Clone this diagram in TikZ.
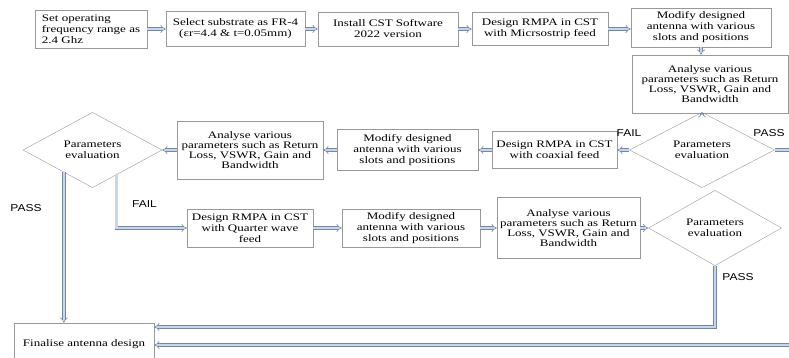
\documentclass[tikz,border=0pt]{standalone}
\usepackage{fontspec}
\setmainfont[FakeStretch=1.3]{Liberation Serif}
\newfontfamily\labelfont[FakeStretch=1.2]{Liberation Sans}
\usetikzlibrary{shapes.geometric,arrows.meta}

\definecolor{flowedge}{RGB}{120,135,160}
\definecolor{flowfill}{RGB}{198,214,236}

\tikzset{
	stepbox/.style={draw=gray!80, rectangle, align=center, inner sep=3pt, font=\fontsize{10}{11}\selectfont},
	anabox/.style={stepbox, font=\fontsize{10}{9.8}\selectfont},
	decision/.style={draw=gray!80, diamond, align=center, inner sep=0pt, font=\fontsize{10}{11}\selectfont},
	flow/.style={draw=flowedge, double=flowfill, double distance=2.2pt, line width=0.6pt, -{Implies}},
	tag/.style={font=\labelfont\fontsize{10}{11}\selectfont}
}

\begin{document}
\begin{tikzpicture}[x=1pt,y=-1pt]
	\useasboundingbox (0,0) rectangle (789,358);

	% Top row
	\node (freq) at (91,29) [stepbox, align=left, minimum width=112pt, minimum height=38pt] {Set operating\\frequency range as\\2.4 Ghz};
	\node (sub) at (235.5,29) [stepbox, minimum width=139pt, minimum height=35pt] {Select substrate as FR-4\\(εr=4.4 \& t=0.05mm)};
	\node (cst) at (388,29) [stepbox, minimum width=140pt, minimum height=34pt] {Install CST Software\\2022 version};
	\node (micro) at (540,29) [stepbox, minimum width=136pt, minimum height=33pt] {Design RMPA in CST\\with Micrsostrip feed};
	\node (modA) at (701,27.5) [stepbox, minimum width=140pt, minimum height=39pt] {Modify designed\\antenna with various\\slots and positions};
	\node (anaA) at (710,84) [anabox, minimum width=156pt, minimum height=58pt] {Analyse various\\parameters such as Return\\Loss, VSWR, Gain and\\Bandwidth};

	% Second row (right to left)
	\node (evalA) at (702,150) [decision, minimum width=145pt, minimum height=58pt] {Parameters\\evaluation};
	\node (coax) at (554.5,150) [stepbox, minimum width=125pt, minimum height=37pt] {Design RMPA in CST\\with coaxial feed};
	\node (modB) at (407.5,150) [stepbox, minimum width=141pt, minimum height=41pt] {Modify designed\\antenna with various\\slots and positions};
	\node (anaB) at (250,150) [anabox, minimum width=146pt, minimum height=58pt] {Analyse various\\parameters such as Return\\Loss, VSWR, Gain and\\Bandwidth};
	\node (evalB) at (92.5,150) [decision, minimum width=139pt, minimum height=70pt] {Parameters\\evaluation};

	% Third row
	\node (qwave) at (250,228) [stepbox, minimum width=126pt, minimum height=38pt] {Design RMPA in CST\\with Quarter wave\\feed};
	\node (modC) at (411,228) [stepbox, minimum width=138pt, minimum height=38pt] {Modify designed\\antenna with various\\slots and positions};
	\node (anaC) at (568.5,228) [anabox, minimum width=143pt, minimum height=61pt] {Analyse various\\parameters such as Return\\Loss, VSWR, Gain and\\Bandwidth};
	\node (evalC) at (715,228) [decision, minimum width=133pt, minimum height=69pt] {Parameters\\evaluation};

	% Final box
	\node (fin) at (84,344) [stepbox, minimum width=140pt, minimum height=42pt] {Finalise antenna design};

	% Helper points
	\coordinate (offR) at (800,150);
	\coordinate (offB) at (800,345);
	\coordinate (passR) at (715,327);

	% Connectors, top row
	\draw[flow] (freq) -- (sub);
	\draw[flow] (sub) -- (cst);
	\draw[flow] (cst) -- (micro);
	\draw[flow] (micro) -- (modA.west |- micro);
	\draw[flow] (modA.south) -- (modA.south |- anaA.north);
	\draw[flow] (evalA.north |- anaA.south) -- (evalA.north);

	% Connectors, second row
	\draw[flow] (evalA) -- (coax);
	\draw[flow] (coax) -- (modB);
	\draw[flow] (modB) -- (anaB);
	\draw[flow] (anaB) -- (evalB);
	\draw[flow] (evalA.east) -- (offR) |- (fin.east |- offB);

	% Connectors, third row
	\draw[flow] (evalB.314) |- (qwave.west);
	\draw[flow] (qwave) -- (modC);
	\draw[flow] (modC) -- (anaC);
	\draw[flow] (anaC) -- (evalC);
	\draw[flow] (evalC.south) -- (passR) -- (passR -| fin.east);
	\draw[flow] (evalB.218) -- (evalB.218 |- fin.north);

	% PASS / FAIL labels
	\node (failA) at (629,133) [tag] {FAIL};
	\node (passA) at (769,133) [tag] {PASS};
	\node (failB) at (144.5,204) [tag] {FAIL};
	\node (passB) at (26,208) [tag] {PASS};
	\node (passC) at (738,277) [tag] {PASS};

\end{tikzpicture}
\end{document}
